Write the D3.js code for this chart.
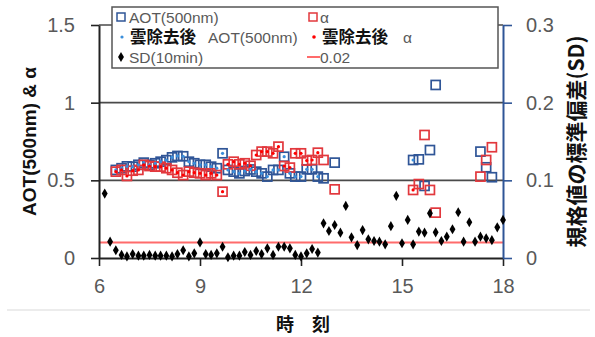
<!DOCTYPE html>
<html lang="ja">
<head>
<meta charset="UTF-8">
<title>AOT & alpha</title>
<script src="https://d3js.org/d3.v7.min.js"></script>
<style>
  body { margin: 0; background: #fff; }
  svg { display: block; font-family: "Liberation Sans", Arial, sans-serif; }
</style>
</head>
<body>
<svg id="chart"></svg>
<script>
// 時刻 (h) : AOT / α (10分値)
const aotTimes = [6.5, 6.67, 6.83, 7, 7.17, 7.33, 7.5, 7.67, 7.83, 8, 8.17, 8.33, 8.5, 8.67, 8.83, 9, 9.17, 9.33, 9.5, 9.67,
  9.83, 10, 10.17, 10.33, 10.5, 10.67, 10.83, 11, 11.17, 11.33, 11.5, 11.67, 11.83, 12, 12.17, 12.33, 12.5, 12.67,
  13, 15.33, 15.5, 15.67, 15.83, 16, 17.33, 17.5, 17.67];
const aotValues = [0.567, 0.578, 0.59, 0.588, 0.6, 0.614, 0.6, 0.61, 0.62, 0.63, 0.648, 0.657, 0.655, 0.62, 0.61, 0.6, 0.6, 0.588, 0.578, 0.674,
  0.567, 0.556, 0.545, 0.56, 0.57, 0.556, 0.545, 0.524, 0.567, 0.567, 0.652, 0.545, 0.524, 0.524, 0.571, 0.571, 0.524, 0.513,
  0.614, 0.631, 0.635, 0.464, 0.695, 1.114, 0.685, 0.584, 0.52];
const alphaValues = [0.556, 0.567, 0.528, 0.562, 0.567, 0.6, 0.592, 0.588, 0.588, 0.578, 0.567, 0.549, 0.534, 0.556, 0.549, 0.545, 0.534, 0.545, 0.534, 0.427,
  0.603, 0.62, 0.603, 0.61, 0.594, 0.663, 0.685, 0.685, 0.674, 0.717, 0.592, 0.582, 0.674, 0.674, 0.627, 0.631, 0.678, 0.631,
  0.442, 0.438, 0.476, 0.792, 0.438, 0.292, 0.524, 0.631, 0.713];

// 雲除去後
const cloudTimes = [6.5, 6.67, 6.83, 7, 7.17, 7.33, 7.5, 7.67, 7.83, 8, 8.17, 8.33, 8.5, 8.67, 8.83, 9, 9.17, 9.33, 9.5, 9.67,
  9.83, 10, 10.17, 10.33, 10.5, 10.67, 10.83, 11, 11.17, 11.33, 11.5, 11.67, 11.83, 12, 12.17, 12.33, 12.5, 15.33];
const cloudAot = [0.567, 0.578, 0.59, 0.588, 0.6, 0.614, 0.6, 0.61, 0.62, 0.63, 0.648, 0.657, 0.655, 0.62, 0.61, 0.6, 0.6, 0.588, 0.578, 0.674,
  0.567, 0.556, 0.545, 0.56, 0.57, 0.556, 0.545, 0.524, 0.567, 0.567, 0.652, 0.545, 0.524, 0.524, 0.571, 0.571, 0.524, 0.631];
const cloudAlpha = [0.556, 0.567, 0.528, 0.562, 0.567, 0.6, 0.592, 0.588, 0.588, 0.578, 0.567, 0.549, 0.534, 0.556, 0.549, 0.545, 0.534, 0.545, 0.534, 0.427,
  0.603, 0.62, 0.603, 0.61, 0.594, 0.663, 0.685, 0.685, 0.674, 0.717, 0.592, 0.582, 0.674, 0.674, 0.627, 0.631, 0.678, 0.438];

// SD(10min)
const sdTimes = [6.17, 6.33, 6.5, 6.67, 6.83, 7, 7.17, 7.33, 7.5, 7.67, 7.83, 8, 8.17, 8.33, 8.5, 8.67, 8.83, 9,
  9.17, 9.33, 9.5, 9.67, 9.83, 10, 10.17, 10.33, 10.5, 10.67, 10.83, 11, 11.17, 11.33, 11.5, 11.67, 11.83, 12,
  12.17, 12.33, 12.5, 12.67, 12.83, 13, 13.17, 13.33, 13.5, 13.67, 13.83, 14, 14.17, 14.33, 14.5, 14.67, 14.83, 15,
  15.17, 15.33, 15.5, 15.67, 15.83, 16, 16.17, 16.33, 16.5, 16.67, 16.83, 17, 17.17, 17.33, 17.5, 17.67, 17.83, 18];
const sdValues = [0.083, 0.021, 0.010, 0.004, 0.002, 0.005, 0.003, 0.003, 0.004, 0.003, 0.003, 0.003, 0.002, 0.005, 0.010, 0.002, 0.006, 0.020,
  0.005, 0.004, 0.006, 0.0145, 0.001, 0.003, 0.003, 0.0077, 0.004, 0.009, 0.005, 0.0125, 0.004, 0.0145, 0.0145, 0.0125, 0.004, 0.002,
  0.006, 0.0116, 0.007, 0.0446, 0.0348, 0.0425, 0.0326, 0.067, 0.0266, 0.0167, 0.036, 0.024, 0.0219, 0.021, 0.0176, 0.041, 0.080, 0.019,
  0.049, 0.0176, 0.034, 0.0326, 0.0575, 0.033, 0.0219, 0.0275, 0.037, 0.0589, 0.021, 0.046, 0.021, 0.0275, 0.0253, 0.023, 0.0395, 0.049];
const sdLimit = 0.02;

const xTicks = [6, 9, 12, 15, 18];
const yTicks = [0, 0.5, 1, 1.5];
const y2Ticks = [0, 0.1, 0.2, 0.3];

// Configuration
const width = 595, height = 337;
const blue = "#2F5597", red = "#E2383D", lightBlue = "#3A8EDB", axisBlue = "#2F5597";
const tickGray = "#595959";

const svg = d3.select("#chart").attr("width", width).attr("height", height);

const x = d3.scaleLinear().domain([6, 18]).range([99, 503]);
const y = d3.scaleLinear().domain([0, 1.5]).range([258, 25]);
const y2 = d3.scaleLinear().domain([0, 0.3]).range([258, 25]);

// bottom separator line
svg.append("line").attr("x1", 7).attr("x2", 590).attr("y1", 310).attr("y2", 310)
  .attr("stroke", "#d9d9d9").attr("stroke-width", 1.2);

// gridlines
svg.append("g").selectAll("line").data(yTicks.filter(d => d > 0)).join("line")
  .attr("x1", x(6)).attr("x2", x(18))
  .attr("y1", d => y(d)).attr("y2", d => y(d))
  .attr("stroke", "#4a4a4a").attr("stroke-width", 1.6);

// 0.02 reference line
svg.append("line")
  .attr("x1", x(6)).attr("x2", x(18))
  .attr("y1", y2(sdLimit)).attr("y2", y2(sdLimit))
  .attr("stroke", "#FF6B6B").attr("stroke-width", 2);

// axes
const xAxis = svg.append("g").attr("transform", `translate(0,${y(0)})`)
  .call(d3.axisBottom(x).tickValues(xTicks).tickSize(8).tickPadding(13).tickSizeOuter(0));
const yAxis = svg.append("g").attr("transform", `translate(${x(6)},0)`)
  .call(d3.axisLeft(y).tickValues(yTicks).tickFormat(d3.format("")).tickSize(8).tickPadding(16).tickSizeOuter(0));
const y2Axis = svg.append("g").attr("transform", `translate(${x(18)},0)`)
  .call(d3.axisRight(y2).tickValues(y2Ticks).tickFormat(d3.format("")).tickSize(9).tickPadding(14).tickSizeOuter(0));

[xAxis, yAxis].forEach(a => {
  a.select(".domain").attr("stroke", "#222").attr("stroke-width", 2);
  a.selectAll(".tick line").attr("stroke", "#222").attr("stroke-width", 1.6);
});
y2Axis.select(".domain").attr("stroke", axisBlue).attr("stroke-width", 2);
y2Axis.selectAll(".tick line").attr("stroke", axisBlue).attr("stroke-width", 1.6);
svg.selectAll(".tick text").attr("font-size", 20).attr("fill", tickGray)
  .attr("font-family", "'Liberation Sans', Arial, sans-serif");

// axis titles
svg.append("text")
  .attr("transform", `translate(36,${(y(0) + y(1.5)) / 2}) rotate(-90)`)
  .attr("text-anchor", "middle")
  .attr("font-size", 19).attr("font-weight", "bold").attr("fill", "#111")
  .text("AOT(500nm) & α");
svg.append("text")
  .attr("transform", `translate(584,${(y(0) + y(1.5)) / 2}) rotate(-90)`)
  .attr("text-anchor", "middle")
  .attr("font-family", "'Noto Sans CJK JP', sans-serif")
  .attr("font-size", 21).attr("font-weight", "bold").attr("fill", "#111")
  .text("規格値の標準偏差(SD)");
svg.append("text")
  .attr("x", 303).attr("y", 331)
  .attr("text-anchor", "middle")
  .attr("font-family", "'Noto Sans CJK JP', sans-serif")
  .attr("font-size", 18).attr("font-weight", "bold").attr("fill", "#111")
  .text("時　刻");

// data
const aotData = aotTimes.map((t, i) => ({ t, v: aotValues[i] }));
const alphaData = aotTimes.map((t, i) => ({ t, v: alphaValues[i] }));
const cloudAotData = cloudTimes.map((t, i) => ({ t, v: cloudAot[i] }));
const cloudAlphaData = cloudTimes.map((t, i) => ({ t, v: cloudAlpha[i] }));
const sdData = sdTimes.map((t, i) => ({ t, v: sdValues[i] }));

const sq = 9;
function squares(data, color) {
  svg.append("g").selectAll("rect").data(data).join("rect")
    .attr("x", d => x(d.t) - sq / 2).attr("y", d => y(d.v) - sq / 2)
    .attr("width", sq).attr("height", sq)
    .attr("fill", "none").attr("stroke", color).attr("stroke-width", 1.7);
}
squares(aotData, blue);
squares(alphaData, red);

function dots(data, color) {
  svg.append("g").selectAll("circle").data(data).join("circle")
    .attr("cx", d => x(d.t)).attr("cy", d => y(d.v)).attr("r", 1.6)
    .attr("fill", color);
}
dots(cloudAotData, lightBlue);
dots(cloudAlphaData, "#FF0000");

const diamond = d3.symbol().type(d3.symbolDiamond).size(30);
svg.append("g").selectAll("path").data(sdData).join("path")
  .attr("d", diamond)
  .attr("transform", d => `translate(${x(d.t)},${y2(d.v)})`)
  .attr("fill", "#000");

// legend
const lg = svg.append("g");
lg.append("rect").attr("x", 112).attr("y", 7).attr("width", 386).attr("height", 61)
  .attr("fill", "#fff").attr("stroke", "#555").attr("stroke-width", 1.5);

const lgFont = 15.5;
function lgText(xp, yp, parts) {
  const t = lg.append("text").attr("x", xp).attr("y", yp + 5.5).attr("font-size", lgFont);
  parts.forEach(p => {
    const s = t.append("tspan").text(p.text).attr("fill", p.bold ? "#111" : tickGray);
    if (p.bold) s.attr("font-weight", "bold").attr("font-family", "'Noto Sans CJK JP', sans-serif").attr("font-size", 16.5);
    if (p.dx) s.attr("dx", p.dx);
  });
}
// row 1
lg.append("rect").attr("x", 117).attr("y", 13).attr("width", 8).attr("height", 8)
  .attr("fill", "none").attr("stroke", blue).attr("stroke-width", 1.5);
lgText(129, 17, [{ text: "AOT(500nm)" }]);
lg.append("rect").attr("x", 309).attr("y", 13).attr("width", 8).attr("height", 8)
  .attr("fill", "none").attr("stroke", red).attr("stroke-width", 1.5);
lgText(320, 17, [{ text: "α" }]);
// row 2
lg.append("circle").attr("cx", 122).attr("cy", 37).attr("r", 1.6).attr("fill", lightBlue);
lgText(130, 37, [{ text: "雲除去後", bold: true }, { text: "AOT(500nm)", dx: 12 }]);
lg.append("circle").attr("cx", 314).attr("cy", 37).attr("r", 1.8).attr("fill", "#FF0000");
lgText(322, 37, [{ text: "雲除去後", bold: true }, { text: "α", dx: 15 }]);
// row 3
lg.append("path").attr("d", diamond).attr("transform", "translate(121,57)").attr("fill", "#000");
lgText(129, 57, [{ text: "SD(10min)" }]);
lg.append("line").attr("x1", 307).attr("x2", 320).attr("y1", 57).attr("y2", 57)
  .attr("stroke", "#FF6B6B").attr("stroke-width", 2);
lgText(320, 57, [{ text: "0.02" }]);
</script>
</body>
</html>
